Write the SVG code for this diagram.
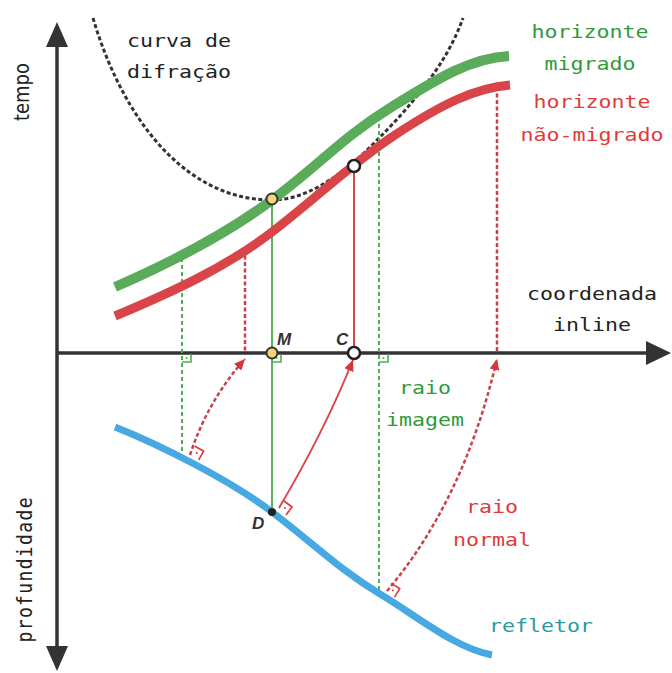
<svg xmlns="http://www.w3.org/2000/svg" width="672" height="673" viewBox="0 0 672 673">
<defs>
<style>
.mono{font-family:"DejaVu Sans Mono","Liberation Mono",monospace;font-size:18px}
.sans{font-family:"DejaVu Sans","Liberation Sans",sans-serif}
.lbl{font-family:"Liberation Sans","DejaVu Sans",sans-serif;font-size:17px;font-weight:bold;font-style:italic;fill:#333}
.g{fill:#2f9a3c}.r{fill:#e03a3a}.k{fill:#222}.t{fill:#2a9a9e}
.axis{stroke:#333;stroke-width:3.5;fill:none}
.gdash{stroke:#4caf50;stroke-width:2;stroke-dasharray:4 3;fill:none}
.rdash{stroke:#c9404a;stroke-width:2.5;stroke-dasharray:4 2.5;fill:none}
.gsolid{stroke:#5cb15c;stroke-width:2;fill:none}
.rsolid{stroke:#d9474b;stroke-width:2;fill:none}
.gmark{stroke:#4caf50;stroke-width:1.6;fill:none}
.rmark{stroke:#e0323c;stroke-width:1.6;fill:none}
</style>
<marker id="ah" viewBox="0 0 10 10" refX="10" refY="5" markerWidth="11" markerHeight="11" markerUnits="userSpaceOnUse" orient="auto">
<path d="M0,0.5 L10,5 L0,9.5 z" fill="#d9333b"/>
</marker>
</defs>
<rect width="672" height="673" fill="#fff"/>

<g id="axes">
<line class="axis" x1="57" y1="44" x2="57" y2="650"/>
<polygon points="57,22 46,47 68,47" fill="#333"/>
<polygon points="57,671 46,646 68,646" fill="#333"/>
<line class="axis" x1="57" y1="353" x2="648" y2="353"/>
<polygon points="671,353 646,341 646,365" fill="#333"/>
</g>

<g id="diffraction-curve">
<path d="M93,18 C120,110 180,200 272,200 C305,200 337,178 365,152 C400,118 445,70 463,18" fill="none" stroke="#333" stroke-width="3" stroke-dasharray="4 2.5"/>
</g>

<g id="connectors">
<line class="gdash" x1="182" y1="258" x2="182" y2="456"/>
<line class="gdash" x1="379" y1="117" x2="379" y2="593"/>
<line class="rdash" x1="245" y1="249" x2="245" y2="353"/>
<line class="rdash" x1="497" y1="87" x2="497" y2="353"/>
<line class="gsolid" x1="272" y1="200" x2="272" y2="512"/>
<line class="rsolid" x1="354" y1="166" x2="354" y2="353"/>
<path class="rdash" d="M190,455 Q208,400 245,359" marker-end="url(#ah)"/>
<path class="rsolid" d="M279,508 Q324,432 353,360" marker-end="url(#ah)"/>
<path class="rdash" d="M387,591 Q464,500 497,359" marker-end="url(#ah)"/>
</g>

<g id="horizonte-migrado">
<path d="M115,287 C170,263 225,235 272,200 S343,137 390,108 S470,58 509,56" fill="none" stroke="#5aab5a" stroke-width="10"/>
</g>
<g id="horizonte-nao-migrado">
<path d="M115,316 C170,293 225,268 272,232 S348,166 395,135 S475,88 510,85" fill="none" stroke="#d94448" stroke-width="9"/>
</g>
<g id="refletor">
<path d="M115,427 C160,445 230,480 272,512 S340,570 380,594 S455,648 492,655" fill="none" stroke="#47a8e2" stroke-width="7"/>
</g>

<g id="right-angles">
<path class="gmark" d="M182,362 L191,362 L191,354"/><circle cx="186.5" cy="358" r="1" fill="#4caf50"/>
<path class="gmark" d="M272,362 L281,362 L281,354"/><circle cx="276.5" cy="358" r="1" fill="#4caf50"/>
<path class="gmark" d="M379,362 L388,362 L388,354"/><circle cx="383.5" cy="358" r="1" fill="#4caf50"/>
<g transform="translate(190,455) rotate(29)"><path class="rmark" d="M0,-10 L10,-10 L10,0"/><circle cx="5" cy="-5" r="1" fill="#e0323c"/></g>
<g transform="translate(278,509) rotate(37)"><path class="rmark" d="M0,-10 L10,-10 L10,0"/><circle cx="5" cy="-5" r="1" fill="#e0323c"/></g>
<g transform="translate(386,592) rotate(31)"><path class="rmark" d="M0,-10 L10,-10 L10,0"/><circle cx="5" cy="-5" r="1" fill="#e0323c"/></g>
</g>

<g id="points">
<circle cx="272" cy="199" r="5.5" fill="#f6d47c" stroke="#333" stroke-width="2"/>
<circle cx="272" cy="353" r="5.5" fill="#f6d47c" stroke="#333" stroke-width="2"/>
<circle cx="354" cy="166" r="6" fill="#fff" stroke="#222" stroke-width="2.5"/>
<circle cx="354" cy="353" r="6" fill="#fff" stroke="#222" stroke-width="2.5"/>
<circle cx="272" cy="512" r="4" fill="#222"/>
</g>

<g id="point-labels">
<text class="lbl" x="277" y="345">M</text>
<text class="lbl" x="336" y="345">C</text>
<text class="lbl" x="252" y="529">D</text>
</g>

<g id="labels">
<g transform="translate(29,92) scale(1.2,1) rotate(-90)"><text class="sans k" font-size="18" text-anchor="middle">tempo</text></g>
<g transform="translate(32,570) scale(1.2,1) rotate(-90)"><text class="mono k" font-size="20" text-anchor="middle" textLength="145">profundidade</text></g>
<g transform="translate(127,47) scale(1.2,1)"><text class="mono k">curva de</text></g>
<g transform="translate(127,78) scale(1.2,1)"><text class="mono k">difração</text></g>
<g transform="translate(590,38) scale(1.2,1)"><text class="mono g" text-anchor="middle">horizonte</text></g>
<g transform="translate(590,70) scale(1.2,1)"><text class="mono g" text-anchor="middle">migrado</text></g>
<g transform="translate(592,108) scale(1.2,1)"><text class="mono r" text-anchor="middle">horizonte</text></g>
<g transform="translate(592,141) scale(1.2,1)"><text class="mono r" text-anchor="middle">não-migrado</text></g>
<g transform="translate(592,300) scale(1.2,1)"><text class="mono k" text-anchor="middle">coordenada</text></g>
<g transform="translate(592,331) scale(1.2,1)"><text class="mono k" text-anchor="middle">inline</text></g>
<g transform="translate(425,394) scale(1.2,1)"><text class="mono g" text-anchor="middle">raio</text></g>
<g transform="translate(425,426) scale(1.2,1)"><text class="mono g" text-anchor="middle">imagem</text></g>
<g transform="translate(492,513) scale(1.2,1)"><text class="mono r" text-anchor="middle">raio</text></g>
<g transform="translate(492,546) scale(1.2,1)"><text class="mono r" text-anchor="middle">normal</text></g>
<g transform="translate(489,632) scale(1.2,1)"><text class="mono t">refletor</text></g>
</g>
</svg>
